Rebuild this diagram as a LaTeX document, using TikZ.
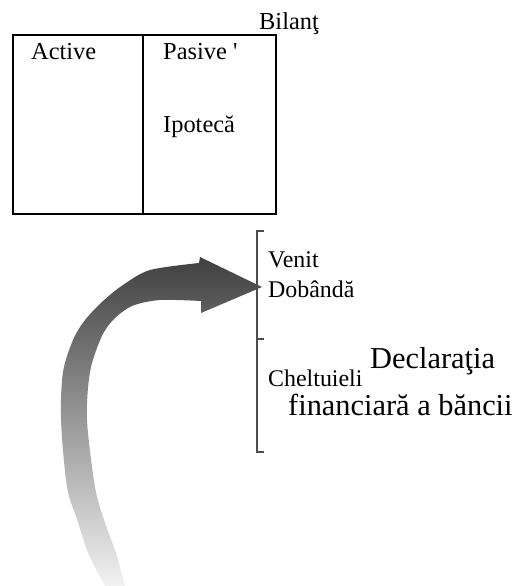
\documentclass[tikz,border=0pt]{standalone}
\usepackage{fontspec}
\setmainfont{Liberation Serif}[Ligatures=TeXOff]
\begin{document}
\begin{tikzpicture}[x=1bp,y=-1bp,
  lbl/.style={inner sep=0pt,anchor=base west,font=\fontsize{24.5}{28}\selectfont},
  sml/.style={inner sep=0pt,anchor=base west,font=\fontsize{24}{28}\selectfont},
  big/.style={inner sep=0pt,anchor=base west,font=\fontsize{30.5}{34}\selectfont},
  boxline/.style={draw=black,line width=2bp},
  brk/.style={draw=black!70,line width=1.4bp}]
\useasboundingbox (0,0) rectangle (521,586);
% balance sheet box
\draw[boxline] (13,35) rectangle (276,214);
\draw[boxline] (143,35) -- (143,214);
\node[lbl] (bil) at (259,30) {Bilanţ};
\node[lbl] (act) at (31,60) {Active};
\node[lbl] (pas) at (163,60) {Pasive '};
\node[lbl] (ipo) at (163,133) {Ipotecă};
% bracket
\draw[brk] (264,231) -- (257,231) -- (257,452) -- (264,452);
\draw[brk] (257,339) -- (264,339);
\node[sml] (ven) at (268,267) {Venit};
\node[sml] (dob) at (268,297) {Dobândă};
\node[sml] (chl) at (268,386) {Cheltuieli};
\node[big] (dec) at (370,368) {Declaraţia};
\node[big] (fin) at (288,415) {financiară a băncii};
% curved arrow
\shade[top color=black!75, middle color=black!58, bottom color=black!5]
  (262,287) -- (200,257) -- (199,263)
  -- plot[smooth] coordinates {(199,263) (150,270) (123,285) (103,301) (85,320) (73,340) (63,372) (61,420) (67,487) (78,522) (88,553) (105,586)}
  -- (125,586)
  -- plot[smooth] coordinates {(125,586) (116,553) (104,520) (95,487) (87,420) (90,372) (101,338) (113,320) (132,306) (160,300) (201,301)}
  -- (201,313) -- cycle;
\end{tikzpicture}
\end{document}
